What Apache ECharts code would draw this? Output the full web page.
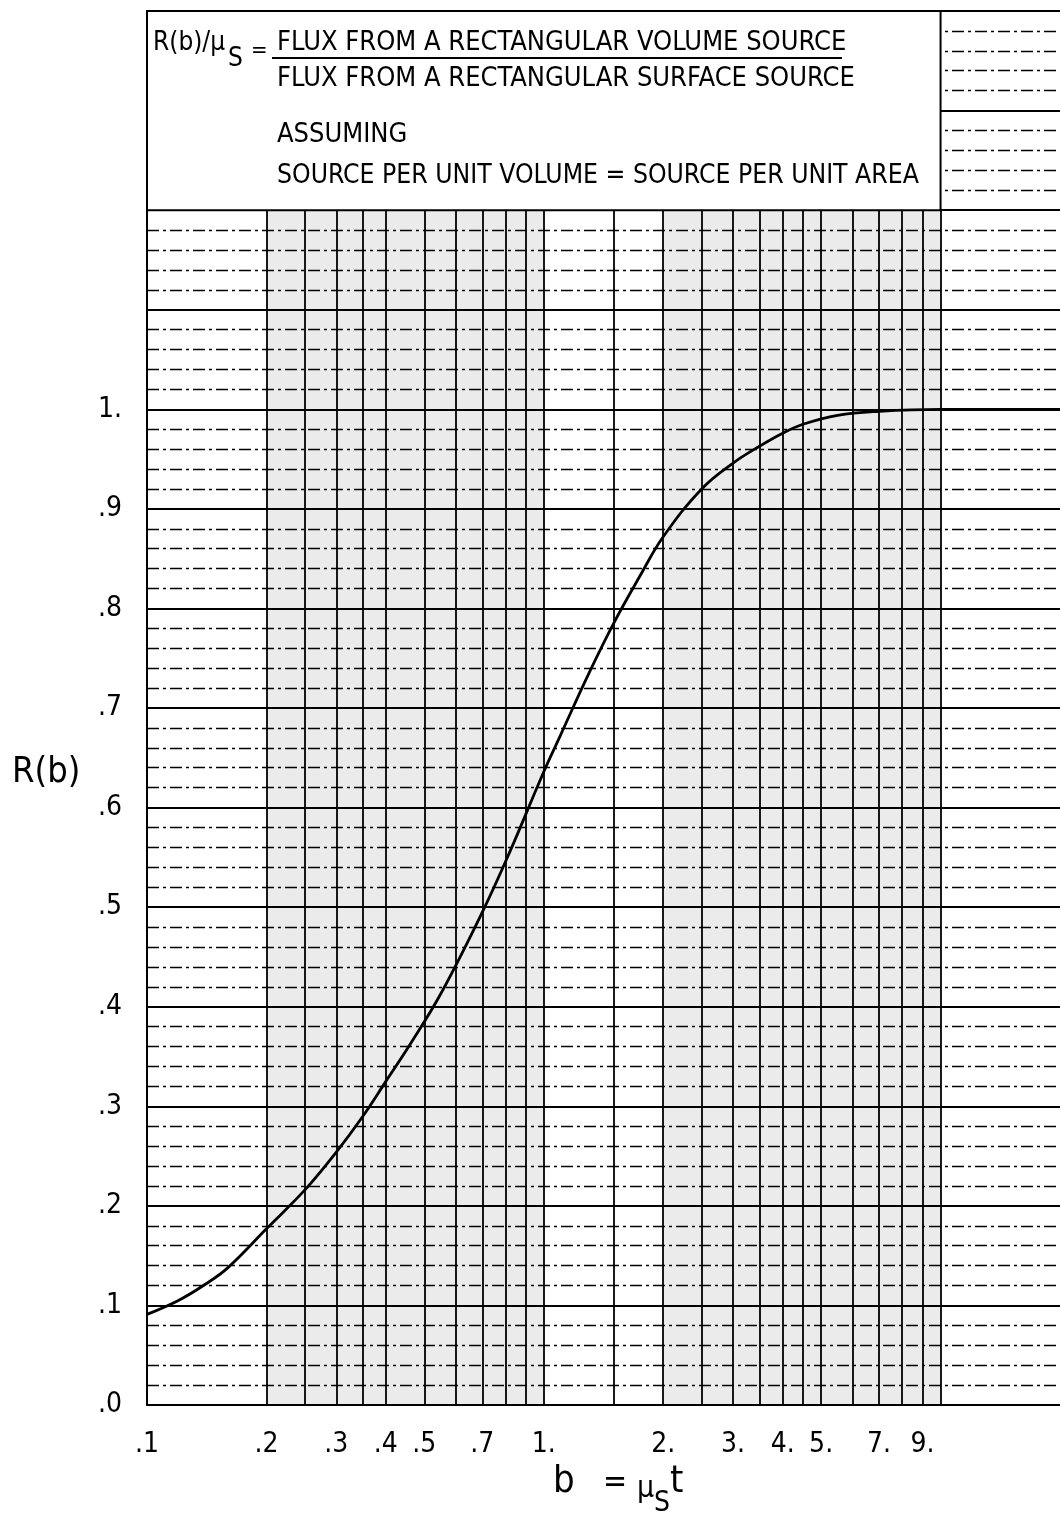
<!DOCTYPE html>
<html>
<head>
<meta charset="utf-8">
<script src="https://cdn.jsdelivr.net/npm/echarts@6/dist/echarts.min.js"></script>
<style>
html,body{margin:0;padding:0;background:#fff;}
#chart{width:1060px;height:1519px;}
</style>
</head>
<body>
<div id="chart"></div>
<script>
// ---- data ----
const bValues = [0.1, 0.12, 0.14, 0.16, 0.2, 0.25, 0.3, 0.35, 0.4, 0.46, 0.55, 0.7, 0.82, 1.0, 1.1, 1.3, 1.5, 1.75, 2.0, 2.5, 3.0, 3.5, 4.0, 4.5, 5.5, 7.0, 10, 20];
const rValues = [0.091, 0.105, 0.121, 0.138, 0.177, 0.216, 0.254, 0.290, 0.325, 0.362, 0.413, 0.495, 0.555, 0.636, 0.672, 0.735, 0.785, 0.833, 0.872, 0.920, 0.946, 0.963, 0.976, 0.985, 0.994, 0.998, 1.0, 1.0];
const xTickValues = [0.1, 0.2, 0.3, 0.4, 0.5, 0.7, 1, 2, 3, 4, 5, 7, 9];
const xTickLabels = ['.1', '.2', '.3', '.4', '.5', '.7', '1.', '2.', '3.', '4.', '5.', '7.', '9.'];
const yTickLabels = ['.0', '.1', '.2', '.3', '.4', '.5', '.6', '.7', '.8', '.9', '1.'];
const paperGridX = [0.2, 0.25, 0.3, 0.35, 0.4, 0.5, 0.6, 0.7, 0.8, 0.9, 1, 1.5, 2, 2.5, 3, 3.5, 4, 4.5, 5, 6, 7, 8, 9, 10];
const shadedBands = [[0.2, 1], [2, 10]];

const FONT = '"Liberation Sans Narrow","DejaVu Sans Condensed","Roboto Condensed","Arial Narrow","Liberation Sans",sans-serif';

const chart = echarts.init(document.getElementById('chart'), null, {renderer: 'canvas'});

const pairs = bValues.map((b, i) => [b, rValues[i]]);

function txt(text, left, top, size) {
  return {type: 'text', left: left, top: top, z: 20, style: {text: text, font: size + 'px ' + FONT, fill: '#000'}};
}

const option = {
  backgroundColor: '#fff',
  animation: false,
  grid: {left: 147, right: 0, top: 11, bottom: 114, containLabel: false},
  xAxis: {
    type: 'log',
    logBase: 10,
    min: 0.1,
    max: 20,
    axisLine: {show: true, lineStyle: {color: '#000', width: 2}},
    axisTick: {show: false},
    splitLine: {show: false},
    axisLabel: {
      customValues: xTickValues,
      margin: 26,
      fontFamily: FONT,
      fontSize: 28,
      color: '#000',
      formatter: function (v) {
        for (let i = 0; i < xTickValues.length; i++) {
          if (Math.abs(v - xTickValues[i]) < 1e-6 * xTickValues[i]) return xTickLabels[i];
        }
        return '';
      }
    }
  },
  yAxis: {
    type: 'value',
    min: 0,
    max: 1.4,
    interval: 0.1,
    axisLine: {show: true, lineStyle: {color: '#000', width: 2}},
    axisTick: {show: false},
    minorTick: {show: false, splitNumber: 5},
    splitLine: {show: true, lineStyle: {color: '#000', width: 1.8}},
    minorSplitLine: {show: true, lineStyle: {color: '#000', width: 1.4, type: [12, 4, 3, 4]}},
    axisLabel: {
      margin: 25,
      fontFamily: FONT,
      fontSize: 28,
      color: '#000',
      formatter: function (v) {
        const i = Math.round(v * 10);
        return i < yTickLabels.length ? yTickLabels[i] : '';
      }
    }
  },
  series: [
    {
      type: 'line', data: [], silent: true, z: 1,
      markArea: {
        silent: true,
        itemStyle: {color: 'rgba(0,0,0,0.08)'},
        data: shadedBands.map(b => [{coord: [b[0], 0]}, {coord: [b[1], 1.2]}])
      }
    },
    {
      type: 'line', data: [], silent: true, z: 2,
      markLine: {
        silent: true, symbol: 'none', animation: false,
        label: {show: false},
        lineStyle: {color: '#000', width: 1.8, type: 'solid'},
        data: paperGridX.map(v => [{coord: [v, 0]}, {coord: [v, 1.2]}])
      }
    },
    {
      type: 'line', data: [], silent: true, z: 3,
      markArea: {
        silent: true,
        itemStyle: {color: '#fff', borderColor: '#000', borderWidth: 2},
        data: [[{coord: [0.1, 1.4]}, {coord: [10, 1.2]}]]
      }
    },
    {
      type: 'line', z: 5,
      data: pairs,
      smooth: 0.4,
      showSymbol: false,
      symbol: 'none',
      lineStyle: {color: '#000', width: 2.8}
    }
  ],
  graphic: [
    txt('R(b)/μ', 153, 30, 26),
    txt('S', 228, 46, 26),
    txt('=', 251, 40, 22),
    txt('FLUX FROM A RECTANGULAR VOLUME SOURCE', 277, 29, 27),
    {type: 'line', z: 20, shape: {x1: 272, y1: 58, x2: 842, y2: 58}, style: {stroke: '#000', lineWidth: 2}},
    txt('FLUX FROM A RECTANGULAR SURFACE SOURCE', 277, 65, 27),
    txt('ASSUMING', 277, 121, 27),
    txt('SOURCE PER UNIT VOLUME = SOURCE PER UNIT AREA', 277, 163, 26.3),
    txt('R(b)', 12, 755, 36),
    txt('b', 553, 1463, 38),
    txt('=', 603, 1468, 32),
    txt('μ', 637, 1474, 30),
    txt('S', 654, 1490, 28),
    txt('t', 670, 1463, 38)
  ]
};

chart.setOption(option);
</script>
</body>
</html>
